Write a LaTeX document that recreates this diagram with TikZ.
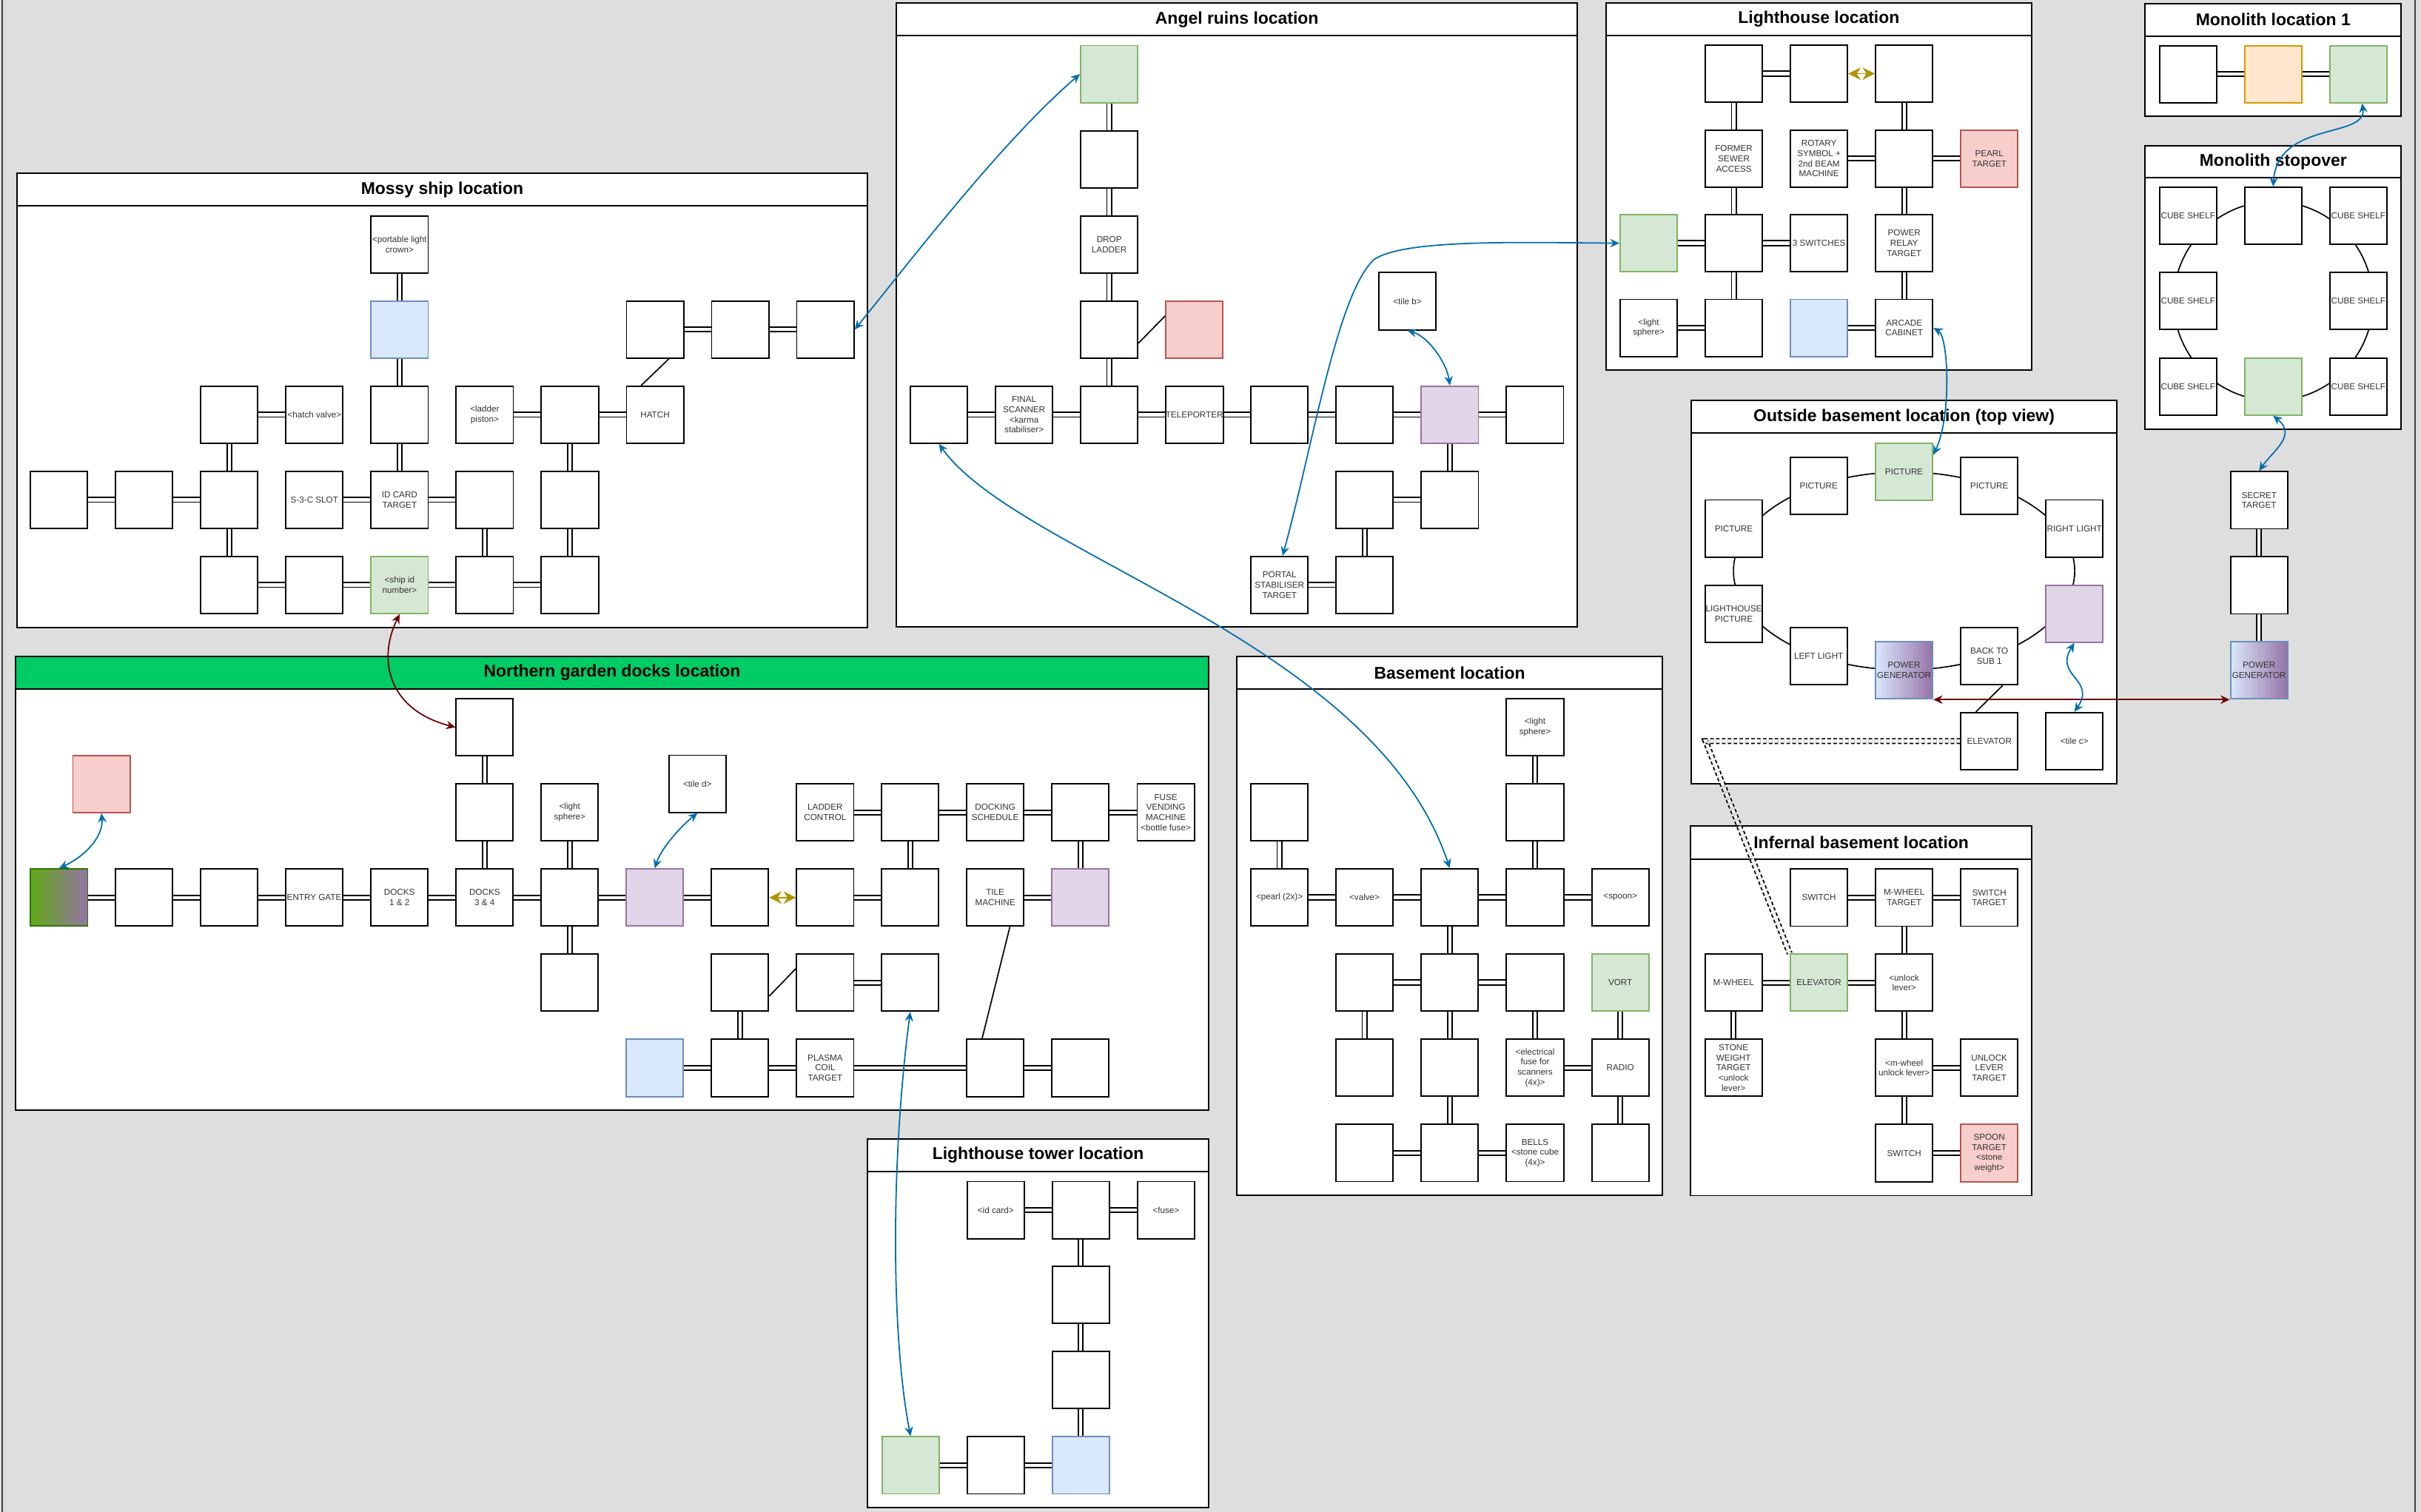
\documentclass[tikz,border=0pt]{standalone}
\usepackage{fontspec}
\setmainfont{Liberation Sans}
\usetikzlibrary{arrows.meta}
\definecolor{bgc}{HTML}{DEDEDE}
\definecolor{txt}{HTML}{333333}
\definecolor{gfill}{HTML}{D5E8D4}\definecolor{gline}{HTML}{82B366}
\definecolor{bfill}{HTML}{DAE8FC}\definecolor{bline}{HTML}{6C8EBF}
\definecolor{rfill}{HTML}{F8CECC}\definecolor{rline}{HTML}{B85450}
\definecolor{pfill}{HTML}{E1D5E7}\definecolor{pline}{HTML}{9673A6}
\definecolor{ofill}{HTML}{FFE6CC}\definecolor{oline}{HTML}{D79B00}
\definecolor{dgreen}{HTML}{60A917}\definecolor{dgline}{HTML}{2D7600}
\definecolor{titlegreen}{HTML}{00CC66}
\definecolor{arrowblue}{HTML}{006EAF}
\definecolor{arrowred}{HTML}{6F0000}
\definecolor{arrowgold}{HTML}{B09500}
\tikzset{
 bx/.style={draw=black, fill=white, line width=0.9pt, minimum width=37pt, minimum height=37pt, inner sep=0pt, align=center, text=txt, font=\fontsize{5.6}{6.6}\selectfont},
 gbx/.style={bx, fill=gfill, draw=gline},
 bbx/.style={bx, fill=bfill, draw=bline},
 rbx/.style={bx, fill=rfill, draw=rline},
 pbx/.style={bx, fill=pfill, draw=pline},
 obx/.style={bx, fill=ofill, draw=oline},
 pgbx/.style={bx, left color=bfill, right color=pline, draw=bline},
 dgbx/.style={bx, left color=dgreen, right color=pline, draw=dgline},
 lnk/.style={draw=black, line width=0.9pt, double=white, double distance=2.1pt},
 dlnk/.style={lnk, dash pattern=on 2.2pt off 1.6pt},
 sline/.style={draw=black, line width=0.8pt},
 ttl/.style={font=\fontsize{11}{13}\selectfont\bfseries, text=black, inner sep=0pt},
 barrow/.style={draw=arrowblue, line width=0.85pt, {Stealth[length=6pt,width=5.5pt,inset=2pt]}-{Stealth[length=6pt,width=5.5pt,inset=2pt]}},
 rarrow/.style={draw=arrowred, line width=0.85pt, {Stealth[length=6pt,width=5.5pt,inset=2pt]}-{Stealth[length=6pt,width=5.5pt,inset=2pt]}},
 garrow/.style={draw=arrowgold, line width=0.85pt, {Stealth[length=8pt,width=8pt,inset=2.5pt]}-{Stealth[length=8pt,width=8pt,inset=2.5pt]}}
}
\newcommand{\locframe}[8]{%
  \fill[white] (#2,#3) rectangle (#4,#6);
  \fill[#8] (#2,#3) rectangle (#4,#5);
  \draw[line width=0.95pt] (#2,#3) rectangle (#4,#6);
  \draw[line width=0.95pt] (#2,#5) -- (#4,#5);
  \node[ttl] (#1) at ({(#2+#4)/2},{(#3+#5)/2}) {#7};
}
\begin{document}
\begin{tikzpicture}[x=1pt,y=-1pt]
\useasboundingbox (0,0) rectangle (1568,979.3);
\fill[bgc] (0,0) rectangle (1568,979.3);
\draw[line width=0.9pt, draw=black!75] (1.3,0) -- (1.3,979.3);
\draw[line width=0.9pt, draw=black!75] (1564.1,0) -- (1564.1,979.3);

% frames
\locframe{f-mossy}{10.8}{112.3}{562}{133.2}{406.4}{Mossy ship location}{white}
\locframe{f-angel}{580.5}{2.1}{1021.7}{23.1}{406.2}{Angel ruins location}{white}
\locframe{f-light}{1040.1}{1.9}{1315.8}{23.1}{239.7}{Lighthouse location}{white}
\locframe{f-mono}{1389.4}{2.2}{1555.1}{23.3}{75.2}{Monolith location 1}{white}
\locframe{f-stop}{1389.4}{94.5}{1555.1}{115.2}{277.9}{Monolith stopover}{white}
\locframe{f-out}{1095.3}{259.5}{1371.1}{280.5}{507.5}{Outside basement location (top view)}{white}
\locframe{f-docks}{10.2}{425.0}{782.6}{446.3}{719.2}{Northern garden docks location}{titlegreen}
\locframe{f-base}{800.9}{425.2}{1076.8}{446.1}{774.2}{Basement location}{white}
\locframe{f-inf}{1094.9}{535.1}{1315.9}{556.5}{774.4}{Infernal basement location}{white}
\locframe{f-tower}{562.0}{737.8}{782.7}{758.6}{976.5}{Lighthouse tower location}{white}

% rings
\draw[sline] (1233.2,369.8) ellipse [x radius=110.5, y radius=64.1];
\draw[sline] (1472.3,195) circle [radius=64.5];

% ---------- Mossy ship
\node[bx] (m-e0) at (258.8,158.3) {\textless portable light\\crown\textgreater};
\node[bbx] (m-e1) at (258.8,213.45) {};
\node[bx] (m-h1) at (424.25,213.45) {};
\node[bx] (m-i1) at (479.4,213.45) {};
\node[bx] (m-j1) at (534.55,213.45) {};
\node[bx] (m-c2) at (148.5,268.6) {};
\node[bx] (m-d2) at (203.65,268.6) {\textless hatch valve\textgreater};
\node[bx] (m-e2) at (258.8,268.6) {};
\node[bx] (m-f2) at (313.95,268.6) {\textless ladder\\piston\textgreater};
\node[bx] (m-g2) at (369.1,268.6) {};
\node[bx] (m-h2) at (424.25,268.6) {HATCH};
\node[bx] (m-a3) at (38.2,323.75) {};
\node[bx] (m-b3) at (93.35,323.75) {};
\node[bx] (m-c3) at (148.5,323.75) {};
\node[bx] (m-d3) at (203.65,323.75) {S-3-C SLOT};
\node[bx] (m-e3) at (258.8,323.75) {ID CARD\\TARGET};
\node[bx] (m-f3) at (313.95,323.75) {};
\node[bx] (m-g3) at (369.1,323.75) {};
\node[bx] (m-c4) at (148.5,378.9) {};
\node[bx] (m-d4) at (203.65,378.9) {};
\node[gbx] (m-e4) at (258.8,378.9) {\textless ship id\\number\textgreater};
\node[bx] (m-f4) at (313.95,378.9) {};
\node[bx] (m-g4) at (369.1,378.9) {};
\foreach \a/\b in {m-e0/m-e1, m-e1/m-e2, m-c2/m-d2, m-f2/m-g2, m-g2/m-h2, m-h1/m-i1, m-i1/m-j1, m-c2/m-c3, m-e2/m-e3, m-g2/m-g3, m-a3/m-b3, m-b3/m-c3, m-d3/m-e3, m-e3/m-f3, m-c3/m-c4, m-f3/m-f4, m-g3/m-g4, m-c4/m-d4, m-d4/m-e4, m-e4/m-f4, m-f4/m-g4}
  \draw[lnk] (\a) -- (\b);
\draw[sline] ([xshift=-9pt]m-h2.north) -- ([xshift=9pt]m-h1.south);

% ---------- Angel ruins
\node[gbx] (a-g) at (718.4,48.0) {};
\node[bx] (a-21) at (718.4,103.15) {};
\node[bx] (a-22) at (718.4,158.3) {DROP\\LADDER};
\node[bx] (a-23) at (718.4,213.45) {};
\node[rbx] (a-red) at (773.55,213.45) {};
\node[bx] (a-04) at (608.1,268.6) {};
\node[bx] (a-14) at (663.25,268.6) {FINAL\\SCANNER\\\textless karma\\stabiliser\textgreater};
\node[bx] (a-24) at (718.4,268.6) {};
\node[bx] (a-34) at (773.55,268.6) {TELEPORTER};
\node[bx] (a-44) at (828.7,268.6) {};
\node[bx] (a-54) at (883.85,268.6) {};
\node[pbx] (a-64) at (939.0,268.6) {};
\node[bx] (a-74) at (994.15,268.6) {};
\node[bx] (a-tb) at (911.5,195.1) {\textless tile b\textgreater};
\node[bx] (a-55) at (883.85,323.75) {};
\node[bx] (a-65) at (939.0,323.75) {};
\node[bx] (a-46) at (828.7,378.9) {PORTAL\\STABILISER\\TARGET};
\node[bx] (a-56) at (883.85,378.9) {};
\foreach \a/\b in {a-g/a-21, a-21/a-22, a-22/a-23, a-23/a-24, a-04/a-14, a-14/a-24, a-24/a-34, a-34/a-44, a-44/a-54, a-54/a-64, a-64/a-74, a-64/a-65, a-55/a-65, a-55/a-56, a-46/a-56}
  \draw[lnk] (\a) -- (\b);
\draw[sline] ([yshift=-8.8pt]a-23.east) -- ([yshift=8.8pt]a-red.west);

% ---------- Lighthouse
\node[bx] (l-10) at (1122.95,47.7) {};
\node[bx] (l-20) at (1178.1,47.7) {};
\node[bx] (l-30) at (1233.25,47.7) {};
\node[bx] (l-11) at (1122.95,102.7) {FORMER\\SEWER\\ACCESS};
\node[bx] (l-21) at (1178.1,102.7) {ROTARY\\SYMBOL +\\2nd BEAM\\MACHINE};
\node[bx] (l-31) at (1233.25,102.7) {};
\node[rbx] (l-41) at (1288.4,102.7) {PEARL\\TARGET};
\node[gbx] (l-02) at (1067.8,157.5) {};
\node[bx] (l-12) at (1122.95,157.5) {};
\node[bx] (l-22) at (1178.1,157.5) {3 SWITCHES};
\node[bx] (l-32) at (1233.25,157.5) {POWER\\RELAY\\TARGET};
\node[bx] (l-03) at (1067.8,212.4) {\textless light\\sphere\textgreater};
\node[bx] (l-13) at (1122.95,212.4) {};
\node[bbx] (l-23) at (1178.1,212.4) {};
\node[bx] (l-33) at (1233.25,212.4) {ARCADE\\CABINET};
\foreach \a/\b in {l-10/l-20, l-10/l-11, l-30/l-31, l-21/l-31, l-31/l-41, l-11/l-12, l-31/l-32, l-02/l-12, l-12/l-22, l-12/l-13, l-32/l-33, l-03/l-13, l-23/l-33}
  \draw[lnk] (\a) -- (\b);
\draw[garrow] (l-20.east) -- (l-30.west);

% ---------- Monolith location 1
\node[bx] (mo-a) at (1417.1,48.05) {};
\node[obx] (mo-b) at (1472.2,48.05) {};
\node[gbx] (mo-c) at (1527.4,48.05) {};
\draw[lnk] (mo-a) -- (mo-b);
\draw[lnk] (mo-b) -- (mo-c);

% ---------- Monolith stopover
\node[bx] (so-tl) at (1417.1,139.8) {CUBE SHELF};
\node[bx] (so-tc) at (1472.2,139.8) {};
\node[bx] (so-tr) at (1527.4,139.8) {CUBE SHELF};
\node[bx] (so-ml) at (1417.1,194.95) {CUBE SHELF};
\node[bx] (so-mr) at (1527.4,194.95) {CUBE SHELF};
\node[bx] (so-bl) at (1417.1,250.3) {CUBE SHELF};
\node[gbx] (so-bc) at (1472.2,250.3) {};
\node[bx] (so-br) at (1527.4,250.3) {CUBE SHELF};

% ---------- Secret column
\node[bx] (st-a) at (1463.1,324.0) {SECRET\\TARGET};
\node[bx] (st-b) at (1463.1,379.1) {};
\node[pgbx] (st-c) at (1463.1,434.2) {POWER\\GENERATOR};
\draw[lnk] (st-a) -- (st-b);
\draw[lnk] (st-b) -- (st-c);

% ---------- Outside basement
\node[gbx] (o-pg) at (1233.2,305.5) {PICTURE};
\node[bx] (o-pl) at (1177.9,314.7) {PICTURE};
\node[bx] (o-pr) at (1288.4,314.7) {PICTURE};
\node[bx] (o-pfl) at (1122.9,342.3) {PICTURE};
\node[bx] (o-rl) at (1343.5,342.3) {RIGHT LIGHT};
\node[bx] (o-lp) at (1122.9,397.5) {LIGHTHOUSE\\PICTURE};
\node[pbx] (o-pu) at (1343.5,397.5) {};
\node[bx] (o-ll) at (1177.9,425.0) {LEFT LIGHT};
\node[pgbx] (o-pwr) at (1233.2,434.2) {POWER\\GENERATOR};
\node[bx] (o-bts) at (1288.4,425.0) {BACK TO\\SUB 1};
\node[bx] (o-el) at (1288.4,480.0) {ELEVATOR};
\node[bx] (o-tc) at (1343.5,480.0) {\textless tile c\textgreater};
\draw[sline] ([xshift=8.7pt]o-bts.south) -- ([xshift=-8.7pt]o-el.north);

% ---------- Infernal basement
\node[bx] (i-sw1) at (1178.05,581.4) {SWITCH};
\node[bx] (i-mwt) at (1233.25,581.4) {M-WHEEL\\TARGET};
\node[bx] (i-swt) at (1288.35,581.4) {SWITCH\\TARGET};
\node[bx] (i-mw) at (1122.75,636.5) {M-WHEEL};
\node[gbx] (i-el) at (1178.05,636.5) {ELEVATOR};
\node[bx] (i-ul) at (1233.25,636.5) {\textless unlock\\lever\textgreater};
\node[bx] (i-swtg) at (1122.75,691.6) {STONE\\WEIGHT\\TARGET\\\textless unlock\\lever\textgreater};
\node[bx] (i-mul) at (1233.25,691.6) {\textless m-wheel\\unlock lever\textgreater};
\node[bx] (i-ult) at (1288.35,691.6) {UNLOCK\\LEVER\\TARGET};
\node[bx] (i-sw2) at (1233.25,746.85) {SWITCH};
\node[rbx] (i-spt) at (1288.35,746.85) {SPOON\\TARGET\\\textless stone\\weight\textgreater};
\foreach \a/\b in {i-sw1/i-mwt, i-mwt/i-swt, i-mwt/i-ul, i-mw/i-el, i-el/i-ul, i-mw/i-swtg, i-ul/i-mul, i-mul/i-ult, i-mul/i-sw2, i-sw2/i-spt}
  \draw[lnk] (\a) -- (\b);
\coordinate (dcorner) at (1104.6,480.0);
\draw[dlnk] (o-el.west) -- (dcorner) -- (i-el.north west);

% ---------- Basement
\node[bx] (b-30) at (994.2,471.0) {\textless light\\sphere\textgreater};
\node[bx] (b-01) at (828.65,526.2) {};
\node[bx] (b-31) at (994.2,526.2) {};
\node[bx] (b-02) at (828.65,581.25) {\textless pearl (2x)\textgreater};
\node[bx] (b-12) at (883.75,581.25) {\textless valve\textgreater};
\node[bx] (b-22) at (938.95,581.25) {};
\node[bx] (b-32) at (994.2,581.25) {};
\node[bx] (b-42) at (1049.4,581.25) {\textless spoon\textgreater};
\node[bx] (b-13) at (883.75,636.35) {};
\node[bx] (b-23) at (938.95,636.35) {};
\node[bx] (b-33) at (994.2,636.35) {};
\node[gbx] (b-43) at (1049.4,636.35) {VORT};
\node[bx] (b-14) at (883.75,691.6) {};
\node[bx] (b-24) at (938.95,691.6) {};
\node[bx] (b-34) at (994.2,691.6) {\textless electrical\\fuse for\\scanners\\(4x)\textgreater};
\node[bx] (b-44) at (1049.4,691.6) {RADIO};
\node[bx] (b-15) at (883.75,746.8) {};
\node[bx] (b-25) at (938.95,746.8) {};
\node[bx] (b-35) at (994.2,746.8) {BELLS\\\textless stone cube\\(4x)\textgreater};
\node[bx] (b-45) at (1049.4,746.8) {};
\foreach \a/\b in {b-30/b-31, b-31/b-32, b-01/b-02, b-02/b-12, b-12/b-22, b-22/b-32, b-32/b-42, b-22/b-23, b-13/b-23, b-23/b-33, b-13/b-14, b-23/b-24, b-33/b-34, b-43/b-44, b-34/b-44, b-24/b-25, b-44/b-45, b-15/b-25, b-25/b-35}
  \draw[lnk] (\a) -- (\b);

% ---------- Northern garden docks
\node[dgbx] (d-0) at (38.3,581.35) {};
\node[bx] (d-1) at (93.3,581.35) {};
\node[bx] (d-2) at (148.3,581.35) {};
\node[bx] (d-3) at (203.5,581.35) {ENTRY GATE};
\node[bx] (d-4) at (258.7,581.35) {DOCKS\\1 \& 2};
\node[bx] (d-5) at (313.9,581.35) {DOCKS\\3 \& 4};
\node[bx] (d-6) at (369.0,581.35) {};
\node[pbx] (d-7) at (424.05,581.35) {};
\node[bx] (d-8) at (479.25,581.35) {};
\node[bx] (d-9) at (534.45,581.35) {};
\node[bx] (d-10) at (589.5,581.35) {};
\node[bx] (d-11) at (644.55,581.35) {TILE\\MACHINE};
\node[pbx] (d-12) at (699.75,581.35) {};
\node[rbx] (d-red) at (65.7,507.8) {};
\node[bx] (d-5a) at (313.9,471.05) {};
\node[bx] (d-5b) at (313.9,526.2) {};
\node[bx] (d-6b) at (369.0,526.2) {\textless light\\sphere\textgreater};
\node[bx] (d-6d) at (369.0,636.5) {};
\node[bx] (d-td) at (451.7,507.7) {\textless tile d\textgreater};
\node[bx] (d-9b) at (534.45,526.2) {LADDER\\CONTROL};
\node[bx] (d-10b) at (589.5,526.2) {};
\node[bx] (d-11b) at (644.55,526.2) {DOCKING\\SCHEDULE};
\node[bx] (d-12b) at (699.75,526.2) {};
\node[bx] (d-13b) at (755.05,526.2) {FUSE\\VENDING\\MACHINE\\\textless bottle fuse\textgreater};
\node[bx] (d-8d) at (479.25,636.5) {};
\node[bx] (d-9d) at (534.45,636.5) {};
\node[bx] (d-10d) at (589.5,636.5) {};
\node[bbx] (d-7e) at (424.05,691.7) {};
\node[bx] (d-8e) at (479.25,691.7) {};
\node[bx] (d-9e) at (534.45,691.7) {PLASMA\\COIL\\TARGET};
\node[bx] (d-11e) at (644.55,691.7) {};
\node[bx] (d-12e) at (699.75,691.7) {};
\foreach \a/\b in {d-0/d-1, d-1/d-2, d-2/d-3, d-3/d-4, d-4/d-5, d-5/d-6, d-6/d-7, d-7/d-8, d-9/d-10, d-5a/d-5b, d-5b/d-5, d-6b/d-6, d-6/d-6d, d-9b/d-10b, d-10b/d-11b, d-11b/d-12b, d-12b/d-13b, d-10b/d-10, d-12b/d-12, d-11/d-12, d-9d/d-10d, d-8d/d-8e, d-7e/d-8e, d-8e/d-9e, d-9e/d-11e, d-11e/d-12e}
  \draw[lnk] (\a) -- (\b);
\draw[garrow] (d-8.east) -- (d-9.west);
\draw[sline] ([xshift=9.5pt]d-11.south) -- ([xshift=-8.5pt]d-11e.north);
\draw[sline] ([yshift=-8.7pt]d-8d.east) -- ([yshift=9.2pt]d-9d.west);

% ---------- Lighthouse tower
\node[bx] (t-10) at (644.85,783.8) {\textless id card\textgreater};
\node[bx] (t-20) at (700.0,783.8) {};
\node[bx] (t-30) at (755.15,783.8) {\textless fuse\textgreater};
\node[bx] (t-21) at (700.0,838.7) {};
\node[bx] (t-22) at (700.0,893.9) {};
\node[gbx] (t-03) at (589.75,949.1) {};
\node[bx] (t-13) at (644.85,949.1) {};
\node[bbx] (t-23) at (700.0,949.1) {};
\foreach \a/\b in {t-10/t-20, t-20/t-30, t-20/t-21, t-21/t-22, t-22/t-23, t-03/t-13, t-13/t-23}
  \draw[lnk] (\a) -- (\b);

% ---------- cross connections
\draw[barrow] (m-j1.east) .. controls (585,175) and (648,92) .. (a-g.west);
\draw[barrow] (a-04.south) .. controls (660,360) and (890,415) .. (b-22.north);
\draw[barrow] ([xshift=2pt]a-46.north) .. controls (850,290) and (866,190) .. (890,168) .. controls (910,155) and (980,157) .. (l-02.west);
\draw[barrow] (l-33.east) .. controls (1262,218) and (1264,270) .. ([yshift=-8pt]o-pg.north east);
\draw[barrow] ([xshift=2.5pt]mo-c.south) .. controls (1533,90) and (1475,78) .. (so-tc.north);
\draw[barrow] (so-bc.south) .. controls (1488,282) and (1472,292) .. (st-a.north);
\draw[rarrow] (o-pwr.south east) -- (st-c.south west);
\draw[barrow] (o-pu.south) .. controls (1330,438) and (1358,440) .. (o-tc.north);
\draw[barrow] (a-tb.south) .. controls (925,218) and (937,235) .. (a-64.north);
\draw[barrow] (d-0.north) .. controls (58,553) and (67,540) .. (d-red.south);
\draw[barrow] (d-7.north) .. controls (428,550) and (440,536) .. (d-td.south);
\draw[barrow] (d-10d.south) .. controls (576,760) and (578,870) .. (t-03.north);
\draw[rarrow] (m-e4.south) .. controls (244,428) and (252,460) .. (d-5a.west);
\end{tikzpicture}
\end{document}
